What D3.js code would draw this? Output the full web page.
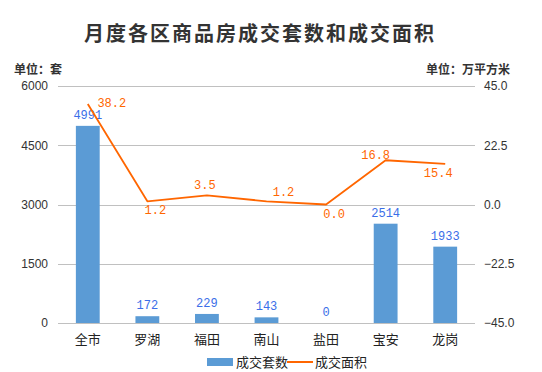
<!DOCTYPE html>
<html>
<head>
<meta charset="utf-8">
<script src="https://cdn.jsdelivr.net/npm/d3@7"></script>
<style>
  body { margin: 0; background: #fff; }
  svg { display: block; }
</style>
</head>
<body>
<svg></svg>
<script>
// chart data
var districts = ["全市", "罗湖", "福田", "南山", "盐田", "宝安", "龙岗"];
var dealCount = [4991, 172, 229, 143, 0, 2514, 1933];
var dealArea = [38.2, 1.2, 3.5, 1.2, 0.0, 16.8, 15.4];
var leftTicks = [0, 1500, 3000, 4500, 6000];
var rightTicks = [-45, -22.5, 0, 22.5, 45];
var areaLabelPlace = ["right", "belowRight", "above", "aboveRight", "belowRight", "aboveLeft", "belowLeft"];

var svgWidth = 542, svgHeight = 372;
var margin = { top: 86, right: 67, bottom: 49, left: 58 };
var width = svgWidth - margin.left - margin.right;
var height = svgHeight - margin.top - margin.bottom;

var svg = d3.select("svg")
    .attr("width", svgWidth)
    .attr("height", svgHeight);

svg.append("text")
    .attr("x", 260)
    .attr("y", 41)
    .attr("text-anchor", "middle")
    .attr("font-family", "Noto Sans CJK SC")
    .attr("font-weight", "bold")
    .attr("font-size", 20)
    .attr("letter-spacing", 2)
    .attr("fill", "#333")
    .text("月度各区商品房成交套数和成交面积");

svg.append("text")
    .attr("x", 14).attr("y", 74)
    .attr("font-family", "Noto Sans CJK SC")
    .attr("font-weight", "bold")
    .attr("font-size", 12)
    .attr("fill", "#333")
    .text("单位：套");

svg.append("text")
    .attr("x", 510).attr("y", 74)
    .attr("text-anchor", "end")
    .attr("font-family", "Noto Sans CJK SC")
    .attr("font-weight", "bold")
    .attr("font-size", 12)
    .attr("fill", "#333")
    .text("单位：万平方米");

var g = svg.append("g")
    .attr("transform", "translate(" + margin.left + "," + margin.top + ")");

var x = d3.scaleBand()
    .domain(districts)
    .range([0, width])
    .paddingInner(0.6)
    .paddingOuter(0.3);

var yLeft = d3.scaleLinear().domain([0, 6000]).range([height, 0]);
var yRight = d3.scaleLinear().domain([-45, 45]).range([height, 0]);

// grid
g.selectAll(".grid")
    .data(leftTicks)
    .enter().append("line")
    .attr("x1", 0).attr("x2", width)
    .attr("y1", function(d) { return Math.round(yLeft(d)) + 0.5; })
    .attr("y2", function(d) { return Math.round(yLeft(d)) + 0.5; })
    .attr("stroke", "#c0c0c0")
    .attr("stroke-width", 1);

var axL = g.append("g")
    .call(d3.axisLeft(yLeft).tickValues(leftTicks).tickSize(0).tickPadding(10).tickFormat(d3.format("d")));
axL.select(".domain").remove();
axL.selectAll("text")
    .attr("font-family", "Liberation Sans")
    .attr("font-size", 12)
    .attr("fill", "#333");

var axR = g.append("g")
    .attr("transform", "translate(" + width + ",0)")
    .call(d3.axisRight(yRight).tickValues(rightTicks).tickSize(0).tickPadding(9).tickFormat(d3.format(".1f")));
axR.select(".domain").remove();
axR.selectAll("text")
    .attr("font-family", "Liberation Sans")
    .attr("font-size", 12)
    .attr("fill", "#333");

var axB = g.append("g")
    .attr("transform", "translate(0," + height + ")")
    .call(d3.axisBottom(x).tickSize(0).tickPadding(12));
axB.select(".domain").remove();
axB.selectAll("text")
    .attr("font-family", "Noto Sans CJK SC")
    .attr("font-size", 13)
    .attr("fill", "#222");

// bars
g.selectAll(".bar")
    .data(districts)
    .enter().append("rect")
    .attr("x", function(d) { return x(d); })
    .attr("width", x.bandwidth())
    .attr("y", function(d, i) { return yLeft(dealCount[i]); })
    .attr("height", function(d, i) { return height - yLeft(dealCount[i]); })
    .attr("fill", "#5b9bd5");

g.selectAll(".barlabel")
    .data(districts)
    .enter().append("text")
    .attr("x", function(d) { return x(d) + x.bandwidth() / 2; })
    .attr("y", function(d, i) { return Math.min(yLeft(dealCount[i]) - 7, height - 7); })
    .attr("text-anchor", "middle")
    .attr("font-family", "Liberation Mono")
    .attr("font-size", 12)
    .attr("fill", "#3a6ee8")
    .text(function(d, i) { return dealCount[i]; });

// line
var cx = function(d, i) { return x(districts[i]) + x.bandwidth() / 2; };
var line = d3.line()
    .x(cx)
    .y(function(d) { return yRight(d); });

g.append("path")
    .datum(dealArea)
    .attr("fill", "none")
    .attr("stroke", "#ff6600")
    .attr("stroke-width", 1.8)
    .attr("stroke-linejoin", "round")
    .attr("d", line);

var offsets = {
    right: [24, 3], belowRight: [8, 13], above: [-2, -6],
    aboveRight: [17, -5], aboveLeft: [-10, -1], belowLeft: [-7, 13]
};

g.selectAll(".arealabel")
    .data(dealArea)
    .enter().append("text")
    .attr("x", function(d, i) { return cx(d, i) + offsets[areaLabelPlace[i]][0]; })
    .attr("y", function(d, i) { return yRight(d) + offsets[areaLabelPlace[i]][1]; })
    .attr("text-anchor", "middle")
    .attr("font-family", "Liberation Mono")
    .attr("font-size", 12)
    .attr("fill", "#ff6600")
    .text(function(d) { return d3.format(".1f")(d); });

// legend
var lg = svg.append("g").attr("transform", "translate(207,362)");
lg.append("rect").attr("x", 0).attr("y", -4).attr("width", 26).attr("height", 8).attr("fill", "#5b9bd5");
lg.append("text").attr("x", 29).attr("y", 5)
    .attr("font-family", "Noto Sans CJK SC").attr("font-size", 13).attr("fill", "#222")
    .text("成交套数");
lg.append("line").attr("x1", 80).attr("x2", 106).attr("y1", 0).attr("y2", 0)
    .attr("stroke", "#ff6600").attr("stroke-width", 2);
lg.append("text").attr("x", 108).attr("y", 5)
    .attr("font-family", "Noto Sans CJK SC").attr("font-size", 13).attr("fill", "#222")
    .text("成交面积");
</script>
</body>
</html>
